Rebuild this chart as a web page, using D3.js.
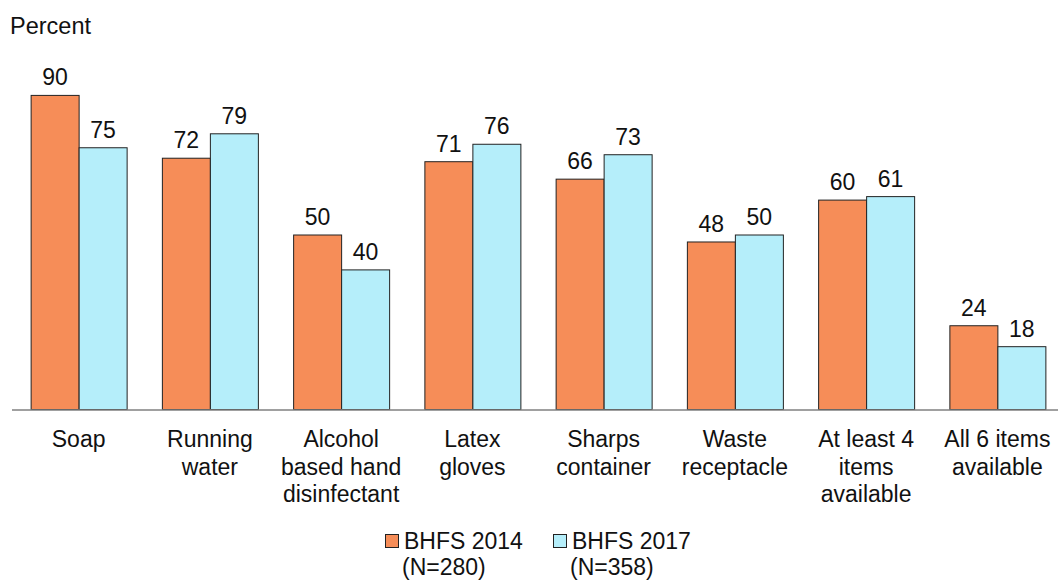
<!DOCTYPE html>
<meta charset="utf-8">
<style>

body {
  margin: 0;
  background: #fff;
  font-family: "Liberation Sans", Arial, sans-serif;
}

.bar {
  stroke: #222;
  stroke-width: 1px;
}

.value, .cat, .legend text, .ylabel {
  font-size: 23px;
  fill: #111;
}

</style>
<body>
  <script src="https://d3js.org/d3.v7.min.js"></script>
  <script>

    var categories = [
      ["Soap"],
      ["Running", "water"],
      ["Alcohol", "based hand", "disinfectant"],
      ["Latex", "gloves"],
      ["Sharps", "container"],
      ["Waste", "receptacle"],
      ["At least 4", "items", "available"],
      ["All 6 items", "available"]
    ];
    var series = ["BHFS 2014", "BHFS 2017"];
    var seriesN = ["(N=280)", "(N=358)"];
    var bhfs2014 = [90, 72, 50, 71, 66, 48, 60, 24];
    var bhfs2017 = [75, 79, 40, 76, 73, 50, 61, 18];
    var colors = ["#f68d58", "#b5eefa"];

    var width = 1058, height = 580;
    var barW = 48;

    var svg = d3.select("body").append("svg")
        .attr("width", width)
        .attr("height", height);

    var x0 = d3.scaleBand()
        .domain(d3.range(categories.length))
        .range([13, 1063]);

    var x1 = d3.scaleBand()
        .domain(series)
        .range([x0.bandwidth() / 2 - barW, x0.bandwidth() / 2 + barW]);

    var y = d3.scaleLinear()
        .domain([0, 100])
        .range([409.5, 60.5]);

    svg.append("text")
        .attr("class", "ylabel")
        .attr("x", 10)
        .attr("y", 34)
        .style("font-size", "23.5px")
        .text("Percent");

    var values = [bhfs2014, bhfs2017];

    var groups = svg.selectAll(".group")
        .data(categories)
      .enter().append("g")
        .attr("class", "group")
        .attr("transform", function(d, i) { return "translate(" + x0(i) + ",0)"; });

    groups.each(function(cat, i) {
      var g = d3.select(this);
      series.forEach(function(s, j) {
        var v = values[j][i];
        g.append("rect")
            .attr("class", "bar")
            .attr("x", x1(s) + 0.5)
            .attr("y", y(v))
            .attr("width", x1.bandwidth())
            .attr("height", y(0) - y(v))
            .attr("fill", colors[j]);
        g.append("text")
            .attr("class", "value")
            .attr("x", x1(s) + x1.bandwidth() / 2 + 0.5)
            .attr("y", y(v) - 10)
            .attr("text-anchor", "middle")
            .text(v);
      });
      var t = g.append("text")
          .attr("class", "cat")
          .attr("text-anchor", "middle");
      cat.forEach(function(line, k) {
        t.append("tspan")
            .attr("x", x0.bandwidth() / 2)
            .attr("y", 447 + k * 27.5)
            .text(line);
      });
    });

    // baseline
    svg.append("line")
        .attr("x1", 12)
        .attr("x2", width)
        .attr("y1", y(0) + 0.5)
        .attr("y2", y(0) + 0.5)
        .attr("stroke", "#808080")
        .attr("stroke-width", 1.5);

    // legend
    var legendX = [385, 553];
    var legend = svg.selectAll(".legend")
        .data(series)
      .enter().append("g")
        .attr("class", "legend")
        .attr("transform", function(d, i) { return "translate(" + legendX[i] + ",0)"; });

    legend.append("rect")
        .attr("x", 0.5)
        .attr("y", 534.5)
        .attr("width", 13)
        .attr("height", 13)
        .attr("fill", function(d, i) { return colors[i]; })
        .attr("stroke", "#222");

    legend.append("text")
        .attr("x", 19)
        .attr("y", 549)
        .text(function(d) { return d; });

    legend.append("text")
        .attr("x", 17)
        .attr("y", 575)
        .text(function(d, i) { return seriesN[i]; });

  </script>
</body>
</html>
